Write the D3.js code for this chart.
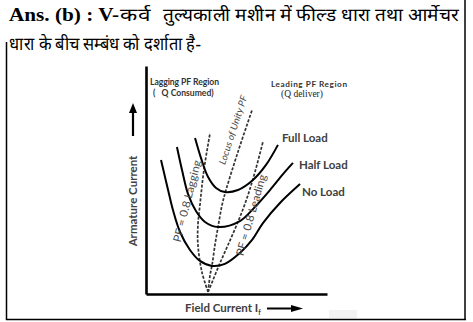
<!DOCTYPE html>
<html><head><meta charset="utf-8">
<script src="https://cdn.jsdelivr.net/npm/d3@7"></script>
<style>
html,body{margin:0;padding:0;background:#fff;}
svg{display:block;}
</style>
</head><body>
<svg id="c" width="473" height="322"></svg>
<script>
// ---- data (field current If, armature current Ia) in arbitrary units 0-100 ----
const fullLoad = [[27.1,68.4],[30.4,59.6],[34.3,51.3],[38.7,46.5],[43.6,44.7],[50.8,45.6],[59.1,50.0],[66.3,56.6],[72.9,65.4]];
const halfLoad = [[17.1,64.5],[19.9,54.4],[23.2,43.9],[27.6,36.4],[32.6,31.6],[39.8,29.4],[51.9,32.0],[60.2,38.2],[68.5,45.6],[75.7,52.6],[81.2,57.5]];
const noLoad   = [[8.3,58.8],[12.2,45.6],[14.9,36.8],[18.8,27.2],[24.3,19.3],[29.8,14.5],[36.5,12.3],[43.6,13.2],[51.9,18.0],[58.6,23.7],[64.6,31.1],[74.0,39.9],[85.1,48.2]];
const pfLagging = [[34.3,0.9],[30.9,9.6],[28.7,21.5],[28.7,30.3],[29.8,39.0],[32.0,54.4],[35.4,70.6]];
const unityPF   = [[34.3,0.9],[35.4,8.3],[36.5,12.7],[38.1,21.5],[39.8,29.4],[42.0,39.0],[44.2,45.6],[50.8,62.3],[58.6,80.7]];
const pfLeading = [[34.3,0.9],[37.0,6.1],[40.9,13.6],[45.3,21.5],[50.8,31.6],[55.8,42.1],[60.2,53.5],[64.6,66.7]];
const loadNames = ["Full Load","Half Load","No Load"];
const titleBold = "Ans. (b) : V-";
const titleLine1a = "कर्व";
const titleLine1b = "तुल्यकाली मशीन में फील्ड धारा तथा आर्मेचर";
const titleLine2 = "धारा के बीच सम्बंध को दर्शाता है-";

const svg = d3.select("#c");
const x = d3.scaleLinear().domain([0,100]).range([146,327]);
const y = d3.scaleLinear().domain([0,100]).range([294,66]);

// frame
svg.append("line").attr("x1",465).attr("y1",0).attr("x2",465).attr("y2",320).attr("stroke","#000").attr("stroke-width",1.5);
svg.append("line").attr("x1",6.5).attr("y1",42).attr("x2",6.5).attr("y2",320).attr("stroke","#000").attr("stroke-width",1.5);
svg.append("line").attr("x1",6).attr("y1",319.5).attr("x2",466).attr("y2",319.5).attr("stroke","#000").attr("stroke-width",1.5);
svg.append("rect").attr("x",329).attr("y",310).attr("width",28).attr("height",8).attr("fill","#f3f3f3");

// title
const serif = "'Liberation Serif', serif";
svg.append("text").attr("x",9).attr("y",21).attr("font-family",serif).attr("font-size",19).attr("font-weight","bold").attr("fill","#000")
  .attr("textLength",110).attr("lengthAdjust","spacingAndGlyphs").text(titleBold);
svg.append("text").attr("x",120).attr("y",21).attr("font-family",serif).attr("font-size",18).attr("fill","#000")
  .attr("textLength",30).attr("lengthAdjust","spacingAndGlyphs").text(titleLine1a);
svg.append("text").attr("x",163).attr("y",21).attr("font-family",serif).attr("font-size",18).attr("fill","#000")
  .attr("textLength",295).attr("lengthAdjust","spacingAndGlyphs").text(titleLine1b);
svg.append("text").attr("x",9).attr("y",50).attr("font-family",serif).attr("font-size",18).attr("fill","#000")
  .attr("textLength",192).attr("lengthAdjust","spacingAndGlyphs").text(titleLine2);

// axes
const ax = svg.append("g").attr("transform",`translate(0,${y(0)})`).call(d3.axisBottom(x).tickValues([]).tickSizeOuter(0));
const ay = svg.append("g").attr("transform",`translate(${x(0)},0)`).call(d3.axisLeft(y).tickValues([]).tickSizeOuter(0));
[ax,ay].forEach(g=>g.select(".domain").attr("stroke","#000").attr("stroke-width",2.6));

const line = d3.line().x(d=>x(d[0])).y(d=>y(d[1])).curve(d3.curveCatmullRom.alpha(0.5));

// loci (dashed)
[pfLagging, unityPF, pfLeading].forEach(d=>{
  svg.append("path").attr("d",line(d)).attr("fill","none").attr("stroke","#333").attr("stroke-width",1.7).attr("stroke-dasharray","3,1.6");
});
// V curves
[fullLoad, halfLoad, noLoad].forEach(d=>{
  svg.append("path").attr("d",line(d)).attr("fill","none").attr("stroke","#000").attr("stroke-width",2);
});

const labFont = "Lato, 'Open Sans', sans-serif";
const lc = "#404040";
// curve labels
const offs = [[4,-3],[6,6],[2,12]];
[fullLoad, halfLoad, noLoad].forEach((d,i)=>{
  const e = d[d.length-1];
  svg.append("text").attr("x",x(e[0])+offs[i][0]).attr("y",y(e[1])+offs[i][1])
    .attr("font-family",labFont).attr("font-weight","bold").attr("font-size",11.5).attr("fill",lc).text(loadNames[i]);
});

// rotated locus labels
function rot(txt,cx,cy,ang,size,style,len){
  svg.append("text").attr("transform",`translate(${cx},${cy}) rotate(${ang})`).attr("text-anchor","middle").attr("dy","0.35em")
    .attr("font-family",labFont).attr("font-size",size).attr("font-style",style).attr("fill","#4a4a4a")
    .attr("textLength",len).attr("lengthAdjust","spacingAndGlyphs").text(txt);
}
rot("PF = 0.8 Lagging",187,201,-76,11,"normal",84);
rot("PF = 0.8 Leading",251,215,-74,11,"normal",84);
rot("Locus of Unity PF",233,130,-72,9.5,"italic",72);

// region labels
svg.append("text").attr("x",150).attr("y",85).attr("font-family",labFont).attr("font-weight","bold").attr("font-size",8.6).attr("fill","#333").attr("textLength",69).text("Lagging PF Region");
svg.append("text").attr("x",153).attr("y",96).attr("font-family",labFont).attr("font-weight","bold").attr("font-size",8.6).attr("fill","#333").attr("xml:space","preserve").text("(   Q Consumed)");
svg.append("text").attr("x",271).attr("y",87).attr("font-family",labFont).attr("font-weight","bold").attr("font-size",8.2).attr("fill","#333").attr("textLength",76).text("Leading PF Region");
svg.append("text").attr("x",281).attr("y",97).attr("font-family",serif).attr("font-size",9.5).attr("fill","#222").text("(Q deliver)");

// axis titles
svg.append("text").attr("transform","translate(137,201) rotate(-90)").attr("text-anchor","middle")
  .attr("font-family",labFont).attr("font-weight","bold").attr("font-size",11.5).attr("fill",lc).text("Armature Current");
svg.append("line").attr("x1",133).attr("y1",136).attr("x2",133).attr("y2",110).attr("stroke","#000").attr("stroke-width",2.2);
svg.append("path").attr("d","M133,103 L129,113 L137,113 Z").attr("fill","#000");

const fc = svg.append("text").attr("x",185).attr("y",312).attr("font-family",labFont).attr("font-weight","bold").attr("font-size",11.5).attr("fill",lc);
fc.append("tspan").text("Field Current I");
fc.append("tspan").attr("font-size",7).attr("dy",3).text("f");
svg.append("line").attr("x1",267).attr("y1",308.5).attr("x2",292).attr("y2",308.5).attr("stroke","#000").attr("stroke-width",2);
svg.append("path").attr("d","M303,308.5 L291,305 L291,312 Z").attr("fill","#000");
</script>
</body></html>
